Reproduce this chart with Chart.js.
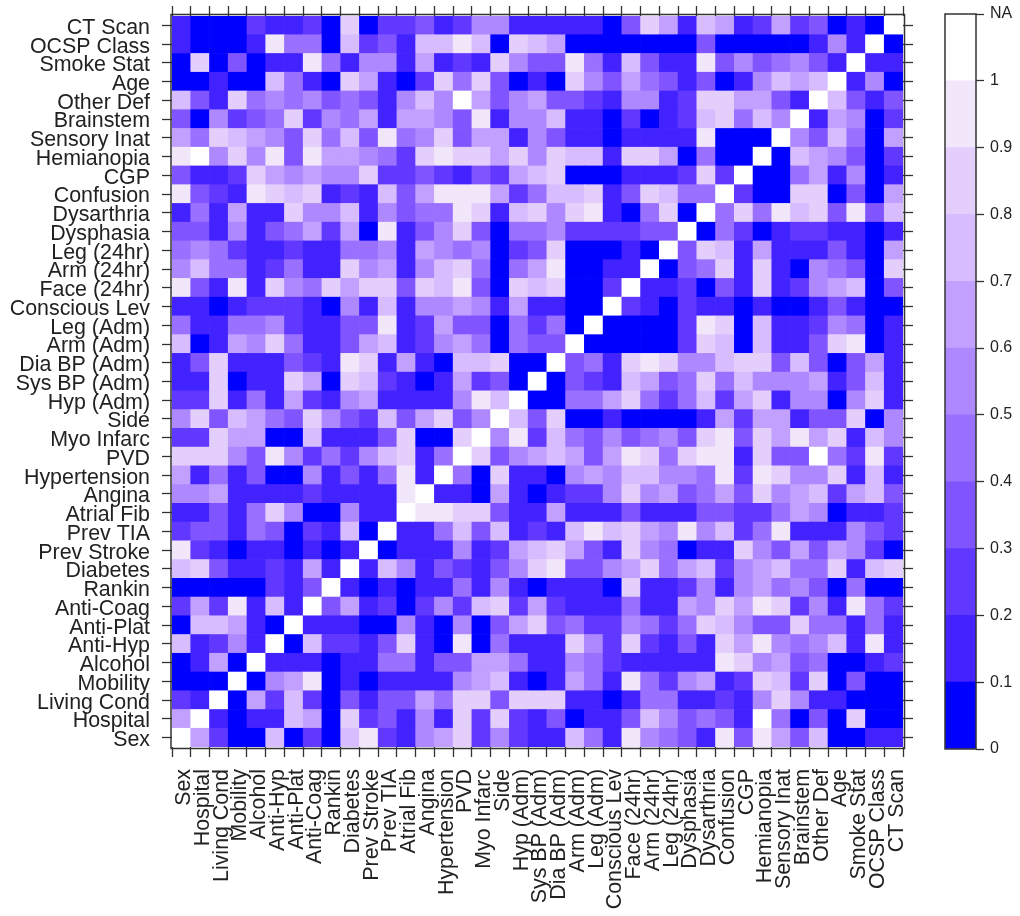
<!DOCTYPE html>
<html>
<head>
<meta charset="utf-8">
<title>P-value matrix</title>
<script src="https://cdn.jsdelivr.net/npm/chart.js@4"></script>
<style>
    html, body { margin: 0; padding: 0; background: #fff; }
    #matrix { position: absolute; left: 0; top: 0; }
    #key { position: absolute; left: 930px; top: 0; }
</style>
</head>
<body>
<canvas id="matrix" width="930" height="916"></canvas>
<canvas id="key" width="90" height="916"></canvas>
<script>
const variables = ['Sex', 'Hospital', 'Living Cond', 'Mobility', 'Alcohol', 'Anti-Hyp', 'Anti-Plat', 'Anti-Coag', 'Rankin', 'Diabetes',
    'Prev Stroke', 'Prev TIA', 'Atrial Fib', 'Angina', 'Hypertension', 'PVD', 'Myo Infarc', 'Side', 'Hyp (Adm)', 'Sys BP (Adm)',
    'Dia BP (Adm)', 'Arm (Adm)', 'Leg (Adm)', 'Conscious Lev', 'Face (24hr)', 'Arm (24hr)', 'Leg (24hr)', 'Dysphasia', 'Dysarthria',
    'Confusion', 'CGP', 'Hemianopia', 'Sensory Inat', 'Brainstem', 'Other Def', 'Age', 'Smoke Stat', 'OCSP Class', 'CT Scan'];

// The matrix is symmetric so each row only goes as far as the diagonal.
const rowSex = [100];
const rowHospital = [65, 100];
const rowLivingCond = [25, 15, 100];
const rowMobility = [5, 5, 5, 100];
const rowAlcohol = [5, 15, 65, 5, 100];
const rowAntiHyp = [75, 15, 25, 55, 15, 100];
const rowAntiPlat = [5, 75, 75, 65, 15, 5, 100];
const rowAntiCoag = [25, 65, 25, 95, 15, 75, 15, 100];
const rowRankin = [5, 5, 5, 5, 5, 25, 15, 35, 100];
const rowDiabetes = [75, 85, 35, 15, 15, 25, 15, 65, 15, 100];
const rowPrevStroke = [95, 25, 15, 5, 15, 15, 5, 15, 5, 15, 100];
const rowPrevTia = [25, 35, 35, 15, 45, 35, 5, 25, 15, 75, 5, 100];
const rowAtrialFib = [15, 15, 35, 15, 45, 85, 55, 5, 5, 55, 15, 15, 100];
const rowAngina = [55, 55, 65, 15, 15, 15, 15, 25, 15, 15, 15, 15, 95, 100];
const rowHypertension = [65, 15, 45, 15, 35, 5, 5, 55, 15, 35, 15, 45, 95, 15, 100];
const rowPvd = [85, 85, 85, 55, 35, 95, 55, 25, 45, 25, 55, 75, 85, 15, 45, 100];
const rowMyoInfarc = [25, 25, 85, 65, 65, 5, 5, 75, 15, 15, 15, 35, 85, 5, 5, 85, 100];
const rowSide = [55, 85, 35, 75, 65, 45, 35, 85, 55, 35, 25, 75, 35, 65, 85, 35, 55, 100];
const rowHypAdm = [25, 25, 85, 15, 45, 15, 65, 25, 15, 55, 65, 15, 15, 15, 15, 55, 95, 75, 100];
const rowSysBp = [15, 15, 85, 5, 15, 15, 85, 65, 5, 85, 75, 25, 15, 5, 15, 65, 25, 35, 5, 100];
const rowDiaBp = [15, 35, 85, 15, 15, 15, 35, 25, 15, 95, 85, 15, 65, 15, 5, 75, 75, 85, 5, 5, 100];
const rowArmAdm = [75, 5, 15, 65, 55, 85, 45, 15, 15, 35, 65, 75, 15, 25, 55, 65, 45, 5, 45, 35, 35, 100];
const rowLegAdm = [45, 15, 15, 45, 45, 55, 25, 15, 15, 35, 35, 95, 15, 25, 65, 35, 35, 5, 45, 25, 45, 5, 100];
const rowConscious = [15, 15, 5, 15, 25, 25, 25, 15, 5, 55, 15, 75, 15, 55, 55, 65, 55, 15, 65, 15, 15, 5, 5, 100];
const rowFace24 = [95, 35, 15, 95, 15, 85, 55, 45, 85, 65, 85, 85, 35, 85, 75, 95, 35, 5, 85, 75, 85, 5, 5, 25, 100];
const rowArm24 = [55, 75, 45, 45, 15, 25, 45, 15, 15, 85, 55, 65, 15, 55, 75, 85, 45, 5, 45, 65, 95, 5, 5, 15, 15, 100];
const rowLeg24 = [45, 55, 45, 25, 15, 15, 25, 15, 15, 45, 45, 55, 15, 65, 55, 45, 55, 5, 25, 35, 85, 5, 5, 5, 15, 5, 100];
const rowDysphasia = [35, 35, 15, 55, 15, 35, 45, 65, 25, 65, 5, 95, 15, 35, 55, 85, 35, 5, 45, 45, 55, 25, 25, 25, 25, 35, 35, 100];
const rowDysarthria = [15, 45, 15, 65, 15, 15, 85, 55, 55, 75, 15, 55, 35, 45, 45, 95, 85, 15, 75, 85, 55, 85, 95, 15, 5, 45, 85, 5, 100];
const rowConfusion = [95, 35, 25, 15, 95, 85, 75, 85, 15, 25, 15, 75, 35, 65, 95, 95, 95, 65, 25, 45, 75, 75, 85, 15, 35, 85, 75, 45, 45, 100];
const rowCgp = [35, 15, 15, 25, 85, 65, 55, 65, 55, 55, 85, 25, 25, 35, 25, 15, 35, 25, 65, 75, 85, 5, 5, 5, 15, 15, 15, 25, 85, 25, 100];
const rowHemianopia = [95, 100, 55, 85, 55, 95, 35, 95, 65, 65, 55, 45, 25, 85, 95, 85, 85, 65, 85, 55, 85, 75, 75, 15, 85, 85, 65, 5, 45, 5, 5, 100];
const rowSensory = [65, 45, 85, 75, 65, 55, 35, 85, 45, 75, 35, 95, 45, 55, 85, 35, 65, 65, 15, 55, 35, 15, 15, 5, 15, 15, 15, 15, 95, 5, 5, 5, 100];
const rowBrainstem = [35, 5, 55, 25, 35, 45, 85, 25, 55, 45, 65, 15, 65, 65, 55, 35, 95, 15, 55, 55, 75, 15, 15, 5, 25, 5, 15, 25, 75, 85, 45, 75, 55, 100];
const rowOtherDef = [75, 35, 15, 85, 45, 55, 45, 55, 35, 45, 35, 15, 55, 75, 55, 100, 65, 35, 55, 65, 35, 35, 25, 15, 55, 55, 15, 25, 85, 85, 65, 65, 35, 15, 100];
const rowAge = [5, 5, 15, 5, 5, 75, 45, 15, 5, 85, 65, 15, 5, 25, 85, 45, 85, 35, 5, 15, 5, 85, 55, 35, 65, 45, 35, 15, 35, 5, 15, 55, 75, 65, 75, 100];
const rowSmokeStat = [5, 85, 5, 35, 5, 15, 15, 95, 45, 15, 55, 55, 15, 65, 15, 25, 15, 85, 55, 35, 35, 95, 45, 15, 75, 35, 15, 15, 95, 35, 55, 35, 45, 55, 35, 15, 100];
const rowOcspClass = [15, 5, 5, 5, 15, 95, 45, 45, 5, 75, 25, 35, 15, 75, 75, 95, 75, 5, 85, 75, 65, 5, 5, 5, 5, 5, 5, 5, 35, 5, 5, 5, 5, 5, 15, 55, 15, 100];
const rowCtScan = [15, 5, 5, 5, 25, 15, 15, 25, 5, 85, 5, 25, 25, 35, 15, 25, 55, 55, 15, 15, 15, 15, 15, 5, 35, 85, 65, 15, 75, 65, 15, 25, 65, 25, 35, 5, 15, 5, 100];

const valueRows = [rowSex, rowHospital, rowLivingCond, rowMobility, rowAlcohol, rowAntiHyp, rowAntiPlat, rowAntiCoag, rowRankin, rowDiabetes,
    rowPrevStroke, rowPrevTia, rowAtrialFib, rowAngina, rowHypertension, rowPvd, rowMyoInfarc, rowSide, rowHypAdm, rowSysBp,
    rowDiaBp, rowArmAdm, rowLegAdm, rowConscious, rowFace24, rowArm24, rowLeg24, rowDysphasia, rowDysarthria,
    rowConfusion, rowCgp, rowHemianopia, rowSensory, rowBrainstem, rowOtherDef, rowAge, rowSmokeStat, rowOcspClass, rowCtScan];

// Colour key, bottom band first
const keyColors = ['#0000FF', '#4222FF', '#6038FF', '#8055FF', '#9970FF', '#AE88FF', '#C2A0FF', '#D7BDFF', '#E4CFFC', '#F2E6FB', '#FFFFFF'];
const keyLabels = ['0', '0.1', '0.2', '0.3', '0.4', '0.5', '0.6', '0.7', '0.8', '0.9', '1', 'NA'];

const lineColor = '#333333';
const textColor = '#222222';
const fontFamily = '"Liberation Sans", Arial, sans-serif';

function cellValue(row, col) {
    return row >= col ? valueRows[row][col] : valueRows[col][row];
}

function cellColor(row, col) {
    return keyColors[Math.min(10, Math.floor(cellValue(row, col) / 10))];
}

// Every row is one stacked dataset, one unit high
const matrixDatasets = variables.map((name, row) => ({
    label: name,
    data: variables.map(() => 1),
    backgroundColor: variables.map((_, col) => cellColor(row, col)),
    borderWidth: 0,
    barPercentage: 1,
    categoryPercentage: 1,
    yAxisID: 'yValue'
}));

// Frame sits just outside the cells like the lattice panel
const framePlugin = {
    id: 'frame',
    afterDraw(chart) {
        const { ctx, chartArea } = chart;
        ctx.save();
        ctx.strokeStyle = lineColor;
        ctx.lineWidth = 1.5;
        ctx.strokeRect(chartArea.left - 1, chartArea.top - 1.5, chartArea.width + 2.5, chartArea.height + 3);
        ctx.restore();
    }
};

function tickGrid(length) {
    return { drawOnChartArea: false, drawTicks: true, tickLength: length, tickColor: lineColor, tickWidth: 1.3 };
}

// Fixed axis sizes, and no extra room for the first and last tick label
function fixBox(width, height) {
    return scale => {
        if (width) scale.width = width;
        if (height) scale.height = height;
        scale.paddingTop = 0;
        scale.paddingBottom = 0;
        scale.paddingLeft = 0;
        scale.paddingRight = 0;
    };
}

new Chart(document.getElementById('matrix'), {
    type: 'bar',
    data: { labels: variables, datasets: matrixDatasets },
    plugins: [framePlugin],
    options: {
        responsive: false,
        animation: false,
        devicePixelRatio: 1,
        layout: { autoPadding: false },
        plugins: { legend: { display: false }, tooltip: { enabled: false } },
        scales: {
            x: {
                stacked: true,
                position: 'bottom',
                border: { display: false },
                grid: tickGrid(10),
                afterFit: fixBox(0, 169),
                ticks: {
                    autoSkip: false, minRotation: 90, maxRotation: 90, padding: 12, labelOffset: 3,
                    color: textColor, font: { family: fontFamily, size: 21.4 }
                }
            },
            xTop: {
                type: 'category',
                labels: variables,
                position: 'top',
                offset: true,
                border: { display: false },
                grid: tickGrid(10),
                afterFit: fixBox(0, 16),
                ticks: { display: false, autoSkip: false }
            },
            yValue: { stacked: true, display: false, min: 0, max: 39 },
            yLeft: {
                type: 'category',
                labels: variables.slice().reverse(),
                position: 'left',
                offset: true,
                border: { display: false },
                grid: tickGrid(10),
                afterFit: fixBox(172, 0),
                ticks: {
                    autoSkip: false, padding: 12, labelOffset: 2.5,
                    color: textColor, font: { family: fontFamily, size: 21.4 }
                }
            },
            yRight: {
                type: 'category',
                labels: variables.slice().reverse(),
                position: 'right',
                offset: true,
                border: { display: false },
                grid: tickGrid(10),
                afterFit: fixBox(27, 0),
                ticks: { display: false, autoSkip: false }
            }
        }
    }
});

// Colour key on the right
new Chart(document.getElementById('key'), {
    type: 'bar',
    data: {
        labels: ['key'],
        datasets: keyColors.map(color => ({
            data: [1],
            backgroundColor: color,
            borderWidth: 0,
            barPercentage: 1,
            categoryPercentage: 1
        }))
    },
    plugins: [{
        id: 'keyFrame',
        afterDraw(chart) {
            const { ctx, chartArea } = chart;
            ctx.save();
            ctx.strokeStyle = lineColor;
            ctx.lineWidth = 1.5;
            ctx.strokeRect(chartArea.left, chartArea.top, chartArea.width, chartArea.height);
            ctx.restore();
        }
    }],
    options: {
        responsive: false,
        animation: false,
        devicePixelRatio: 1,
        layout: { autoPadding: false, padding: { left: 15, top: 14, bottom: 167 } },
        plugins: { legend: { display: false }, tooltip: { enabled: false } },
        scales: {
            x: { stacked: true, display: false },
            y: {
                stacked: true,
                position: 'right',
                min: 0,
                max: 11,
                border: { display: false },
                grid: tickGrid(8),
                afterFit: fixBox(44, 0),
                ticks: {
                    stepSize: 1, autoSkip: false, padding: 6,
                    color: textColor, font: { family: fontFamily, size: 16 },
                    callback: value => keyLabels[value]
                }
            }
        }
    }
});
</script>
</body>
</html>
